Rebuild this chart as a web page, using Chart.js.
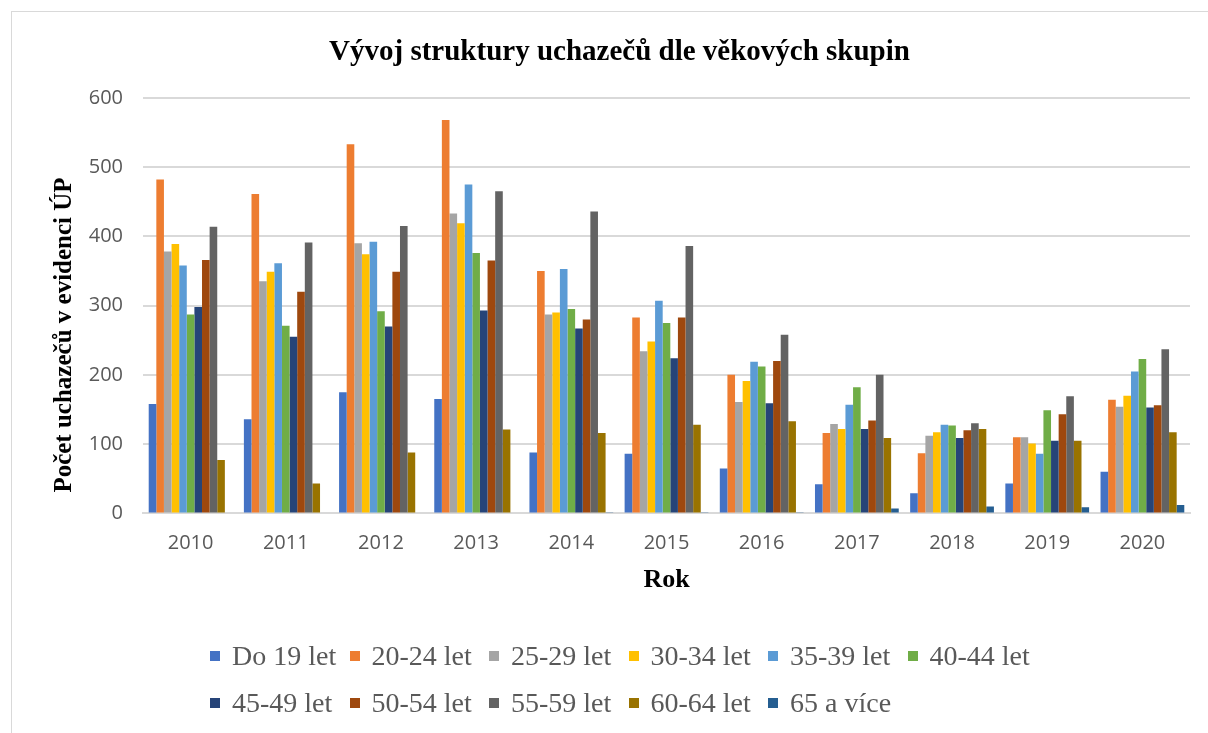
<!DOCTYPE html>
<html>
<head>
<meta charset="utf-8">
<script src="https://cdn.jsdelivr.net/npm/chart.js@4/dist/chart.umd.min.js"></script>
<style>
  body { margin: 0; background: #fff; }
  #frame { position: absolute; left: 11px; top: 11px; width: 1220px; height: 760px; border: 1px solid #d9d9d9; box-sizing: border-box; }
  #wrap { position: absolute; left: 0; top: 0; width: 1208px; height: 733px; }
  #legend { position: absolute; left: 210px; top: 632px; width: 860px; font-family: "Liberation Serif", "Times New Roman", serif; font-size: 28px; color: #595959; }
  .item { display: inline-flex; align-items: center; width: 139.5px; height: 47px; white-space: nowrap; }
  .box { width: 10px; height: 10px; margin-right: 12px; }
</style>
</head>
<body>
<div id="frame"></div>
<div id="wrap"><canvas id="graf"></canvas></div>
<div id="legend"></div>
<script>
const years = ['2010', '2011', '2012', '2013', '2014', '2015', '2016', '2017', '2018', '2019', '2020'];

const do19 = [158, 136, 175, 165, 88, 86, 65, 42, 29, 43, 60];
const s20_24 = [482, 461, 533, 568, 350, 283, 200, 116, 87, 110, 164];
const s25_29 = [378, 335, 390, 433, 287, 234, 161, 129, 112, 110, 154];
const s30_34 = [389, 349, 374, 419, 290, 248, 191, 122, 117, 101, 170];
const s35_39 = [358, 361, 392, 475, 353, 307, 219, 157, 128, 86, 205];
const s40_44 = [287, 271, 292, 376, 295, 275, 212, 182, 127, 149, 223];
const s45_49 = [298, 255, 270, 293, 267, 224, 159, 122, 109, 105, 153];
const s50_54 = [366, 320, 349, 365, 280, 283, 220, 134, 120, 143, 156];
const s55_59 = [414, 391, 415, 465, 436, 386, 258, 200, 130, 169, 237];
const s60_64 = [77, 43, 88, 121, 116, 128, 133, 109, 122, 105, 117];
const s65 = [0, 0, 0, 0, 1, 1, 1, 7, 10, 9, 12];

const labels = ['Do 19 let', '20-24 let', '25-29 let', '30-34 let', '35-39 let', '40-44 let',
                '45-49 let', '50-54 let', '55-59 let', '60-64 let', '65 a více'];
const series = [do19, s20_24, s25_29, s30_34, s35_39, s40_44, s45_49, s50_54, s55_59, s60_64, s65];
const colors = ['#4472C4', '#ED7D31', '#A5A5A5', '#FFC000', '#5B9BD5', '#70AD47',
                '#264478', '#9E480E', '#636363', '#997300', '#255E91'];

const serif = '"Liberation Serif", "Times New Roman", serif';
const sans = '"Open Sans", "Liberation Sans", sans-serif';
const yTitle = 'Počet uchazečů v evidenci ÚP';

const datasets = series.map((d, i) => ({
    label: labels[i],
    data: d,
    backgroundColor: colors[i],
    borderWidth: 0,
    barPercentage: 1,
    categoryPercentage: 0.88
}));

// popisek osy y - v Excelu neni presne na stredu
const yTitlePlugin = {
    id: 'yTitle',
    afterDraw(chart) {
        const c = chart.ctx;
        c.save();
        c.translate(65, 335);
        c.rotate(-Math.PI / 2);
        c.font = 'bold 25px ' + serif;
        c.fillStyle = '#000';
        c.textAlign = 'center';
        c.textBaseline = 'middle';
        c.fillText(yTitle, 0, 0);
        c.restore();
    }
};

const ctx = document.getElementById('graf').getContext('2d');
const chart = new Chart(ctx, {
    type: 'bar',
    data: { labels: years, datasets: datasets },
    plugins: [yTitlePlugin],
    options: {
        responsive: true,
        maintainAspectRatio: false,
        animation: false,
        layout: { padding: { left: 49, right: 18, top: 20, bottom: 138 } },
        plugins: {
            legend: { display: false },
            tooltip: { enabled: false },
            title: {
                display: true,
                text: 'Vývoj struktury uchazečů dle věkových skupin',
                color: '#000',
                font: { family: serif, size: 29, weight: 'bold' },
                padding: { top: 15, bottom: 28 }
            }
        },
        scales: {
            x: {
                grid: { display: false },
                border: { color: '#d9d9d9', width: 2 },
                ticks: { color: '#595959', font: { family: sans, size: 20 }, padding: 10 },
                title: {
                    display: true,
                    text: 'Rok',
                    color: '#000',
                    font: { family: serif, size: 26, weight: 'bold', lineHeight: 1.1 },
                    padding: { top: 1, bottom: 0 }
                }
            },
            y: {
                min: 0,
                max: 600,
                afterFit: (s) => { s.width = 94; },
                grid: { color: '#d9d9d9', lineWidth: 2, drawTicks: false },
                border: { display: false },
                ticks: { stepSize: 100, color: '#595959', font: { family: sans, size: 20 }, padding: 20 }
            }
        }
    }
});

// legenda jako v Excelu - pevne sirky polozek
const legend = document.getElementById('legend');
chart.data.datasets.forEach((ds) => {
    const item = document.createElement('span');
    item.className = 'item';
    const box = document.createElement('span');
    box.className = 'box';
    box.style.background = ds.backgroundColor;
    item.appendChild(box);
    item.appendChild(document.createTextNode(ds.label));
    legend.appendChild(item);
});
</script>
</body>
</html>
